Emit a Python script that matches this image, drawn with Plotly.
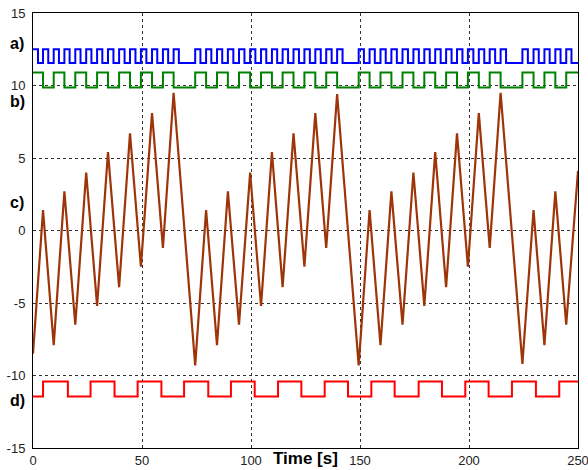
import plotly.graph_objects as go

# ---------------- data ----------------
# c) brown signal: turning points (time [s], value)
c_times = [0, 4.6, 9.5, 14.4, 19.4, 24.4, 29.4, 34.4, 39.5, 44.5, 49.5, 54.6, 59.6, 64.5, 74.4,
           79.4, 84.4, 89.4, 94.5, 99.6, 104.6, 109.6, 114.5, 119.5, 124.5, 129.5, 134.5, 139.5, 149.4,
           154.4, 159.4, 164.4, 169.5, 174.5, 179.5, 184.5, 189.5, 194.5, 199.5, 204.5, 209.5, 214.5, 224.5,
           229.6, 234.6, 239.6, 244.6, 250]
c_values = [-8.5, 1.4, -7.9, 2.7, -6.5, 4.0, -5.2, 5.4, -3.9, 6.7, -2.5, 8.1, -1.2, 9.5, -9.3,
            1.4, -7.9, 2.7, -6.5, 4.0, -5.2, 5.4, -3.9, 6.7, -2.5, 8.1, -1.2, 9.4, -9.3,
            1.4, -7.9, 2.7, -6.5, 4.0, -5.2, 5.4, -3.9, 6.7, -2.5, 8.1, -1.2, 9.5, -9.2,
            1.4, -7.9, 2.7, -6.5, 4.1]

# a) blue pulse train: switching instants, starts high
a_levels = [11.55, 12.5]          # low, high
a_start_high = True
a_edges = [2.3, 4.6, 7.0, 9.5, 11.9, 14.4, 16.8, 19.4, 21.8, 24.4, 26.8, 29.4, 31.8, 34.4,
           36.9, 39.5, 42.0, 44.5, 47.0, 49.5, 52.0, 54.6, 57.0, 59.6, 62.0, 64.5, 66.9,
           74.4, 76.8, 79.4, 81.8, 84.4, 86.8, 89.4, 91.9, 94.5, 97.0, 99.6, 102.0, 104.6,
           107.0, 109.6, 112.0, 114.5, 117.0, 119.5, 122.0, 124.5, 127.0, 129.5, 132.0,
           134.5, 137.0, 139.5, 142.0,
           149.4, 151.8, 154.4, 156.8, 159.4, 161.8, 164.4, 166.9, 169.5, 172.0, 174.5,
           177.0, 179.5, 182.0, 184.5, 187.0, 189.5, 192.0, 194.5, 197.0, 199.5, 202.0,
           204.5, 207.0, 209.5, 212.0, 214.5, 217.0,
           224.5, 227.0, 229.6, 232.0, 234.6, 237.0, 239.6, 242.0, 244.6, 247.0]

# b) green direction signal: switching instants, starts high
b_levels = [9.87, 10.9]
b_start_high = True
b_edges = [4.6, 9.5, 14.4, 19.4, 24.4, 29.4, 34.4, 39.5, 44.5, 49.5, 54.6, 59.6, 64.5, 74.4,
           79.4, 84.4, 89.4, 94.5, 99.6, 104.6, 109.6, 114.5, 119.5, 124.5, 129.5, 134.5, 139.5, 149.4,
           154.4, 159.4, 164.4, 169.5, 174.5, 179.5, 184.5, 189.5, 194.5, 199.5, 204.5, 209.5, 214.5, 224.5,
           229.6, 234.6, 239.6, 244.6]

# d) red reference signal: switching instants, starts low
d_levels = [-11.45, -10.42]
d_start_high = False
d_edges = [4.6, 16.0, 26.4, 37.4, 48.0, 58.9, 69.3, 80.4, 90.8, 101.7, 112.4, 123.1, 133.8,
           144.5, 155.2, 165.9, 176.9, 187.6, 198.3, 209.0, 219.7, 230.7, 241.4]

t_end = 250
x_ticks = [0, 50, 100, 150, 200, 250]
y_ticks = [-15, -10, -5, 0, 5, 10, 15]
panel_labels = ["a)", "b)", "c)", "d)"]
panel_label_y = [12.9, 8.87, 1.96, -11.72]
x_title = "Time [s]"


def square(edges, levels, start_high):
    xs = [0]
    state = 1 if start_high else 0
    ys = [levels[state]]
    for e in edges:
        state = 1 - state
        xs.append(e)
        ys.append(levels[state])
    xs.append(t_end)
    ys.append(levels[state])
    return xs, ys


fig = go.Figure()

ax, ay = square(a_edges, a_levels, a_start_high)
bx, by = square(b_edges, b_levels, b_start_high)
dx, dy = square(d_edges, d_levels, d_start_high)

fig.add_trace(go.Scatter(x=ax, y=ay, mode="lines", line=dict(color="#0000FF", width=2, shape="hv")))
fig.add_trace(go.Scatter(x=bx, y=by, mode="lines", line=dict(color="#008000", width=2, shape="hv")))
fig.add_trace(go.Scatter(x=c_times, y=c_values, mode="lines", line=dict(color="#9E3509", width=2.2)))
fig.add_trace(go.Scatter(x=dx, y=dy, mode="lines", line=dict(color="#FF0000", width=2, shape="hv")))

tick_font = dict(family="Liberation Sans, Arial, sans-serif", size=13, color="#222222")
axis_common = dict(
    showline=True, mirror=True, linecolor="#000000", linewidth=1,
    showgrid=True, gridcolor="#333333", gridwidth=1, griddash="3px,3px",
    zeroline=False, ticks="", tickfont=tick_font, automargin=False,
    ticklabeloverflow="allow",
)

fig.update_layout(
    template="none",
    width=588, height=470,
    margin=dict(l=33, r=10, t=13, b=22),
    paper_bgcolor="white", plot_bgcolor="white",
    showlegend=False,
    xaxis=dict(range=[0, t_end], tickvals=x_ticks, ticktext=[str(v) for v in x_ticks], **axis_common),
    yaxis=dict(range=[-15, 15], tickvals=y_ticks, ticktext=[str(v) for v in y_ticks],
               ticklabelstandoff=4, **axis_common),
)

for lab, yy in zip(panel_labels, panel_label_y):
    fig.add_annotation(text="<b>" + lab + "</b>", xref="paper", yref="y", x=-0.029, y=yy,
                       showarrow=False, xanchor="center", yanchor="middle",
                       font=dict(family="Liberation Sans, Arial, sans-serif", size=16, color="#000000"))
fig.add_annotation(text="<b>" + x_title + "</b>", xref="paper", yref="paper", x=0.5, y=-0.024,
                   showarrow=False, xanchor="center", yanchor="middle",
                   font=dict(family="Liberation Sans, Arial, sans-serif", size=17, color="#000000"))

fig.write_html("out.html",
               config={"displayModeBar": False},
               post_script="document.body.style.margin='0';document.body.style.padding='0';"
                           "document.documentElement.style.overflow='hidden';")
